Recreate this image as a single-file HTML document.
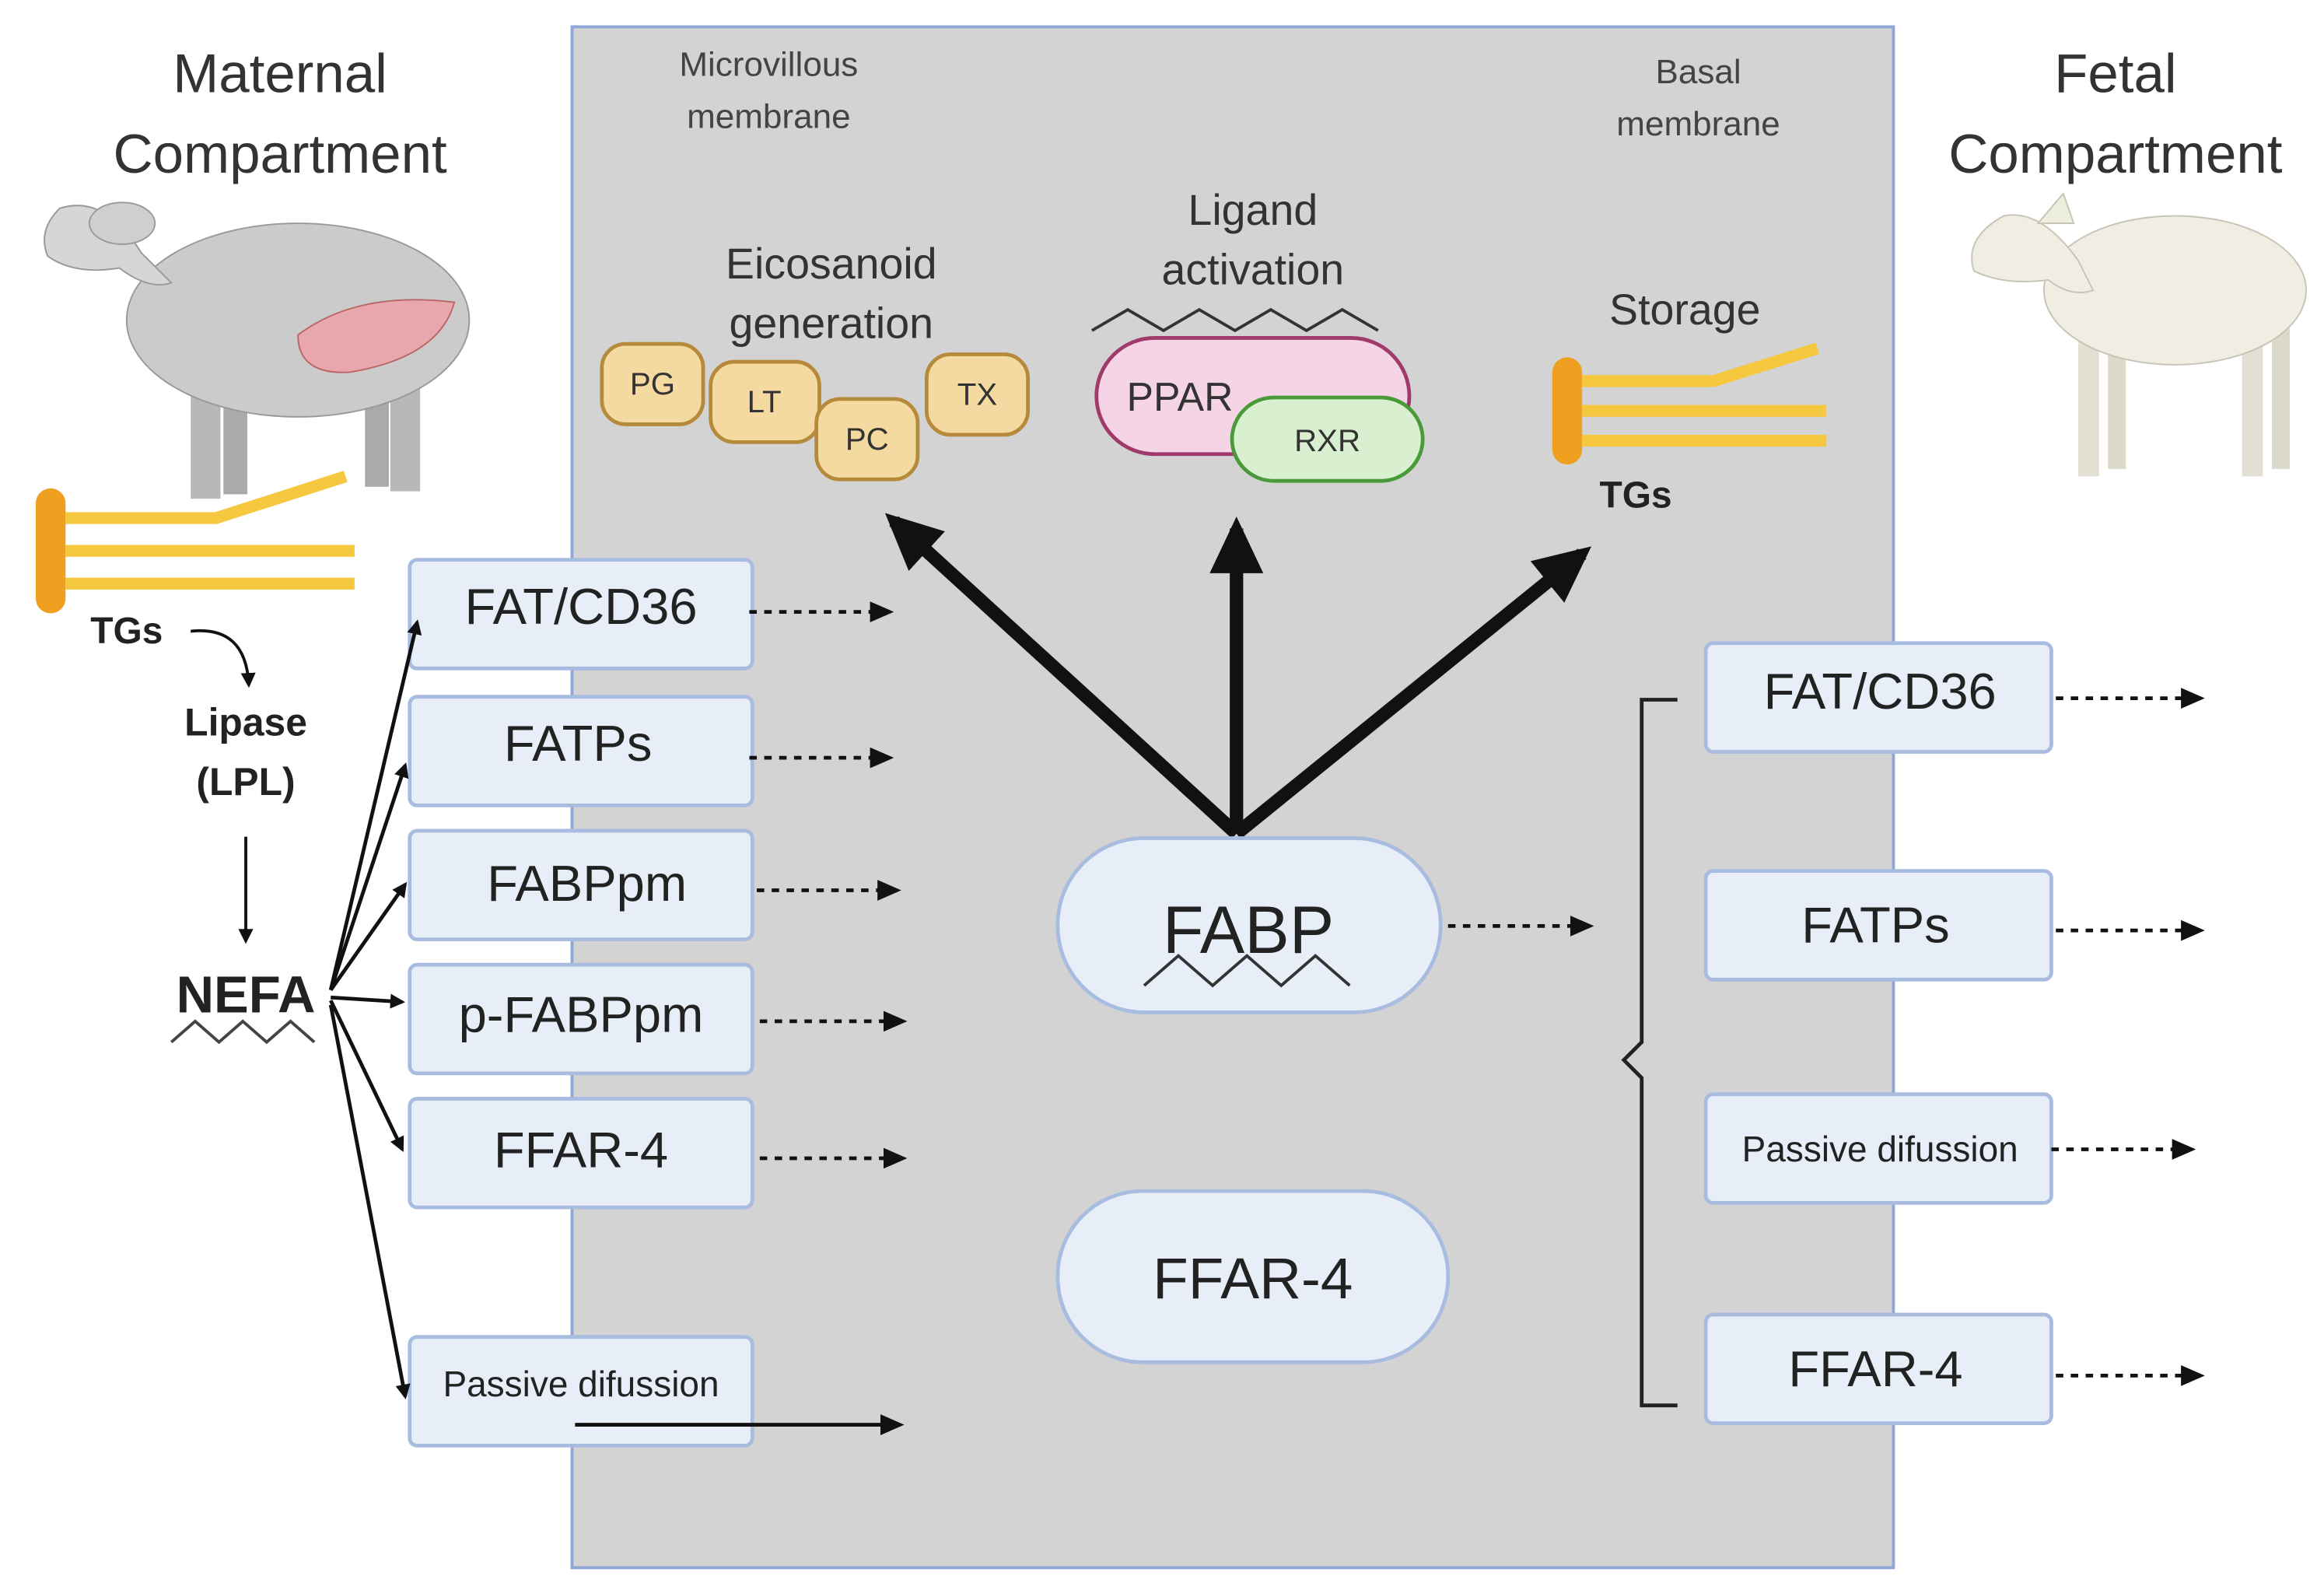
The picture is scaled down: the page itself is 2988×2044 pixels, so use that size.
<!DOCTYPE html>
<html><head><meta charset="utf-8"><style>
html,body{margin:0;padding:0;background:#fff;}
svg{display:block;}
text{font-family:"Liberation Sans",sans-serif;}
</style></head><body>
<svg width="2988" height="2044" viewBox="0 0 1560 1068" preserveAspectRatio="none" xmlns="http://www.w3.org/2000/svg">
<defs>
<marker id="ah" markerWidth="10" markerHeight="10" refX="8" refY="5" orient="auto" markerUnits="userSpaceOnUse"><path d="M0,0 L10,5 L0,10 z" fill="#111"/></marker>
<marker id="ah2" markerWidth="16" markerHeight="14" refX="12" refY="7" orient="auto" markerUnits="userSpaceOnUse"><path d="M0,0 L16,7 L0,14 z" fill="#111"/></marker>
<marker id="big" markerWidth="40" markerHeight="40" refX="30" refY="20" orient="auto" markerUnits="userSpaceOnUse"><path d="M0,2 L38,20 L0,38 z" fill="#111"/></marker>
</defs>
<rect x="0" y="0" width="1560" height="1068" fill="#fff"/>
<rect x="384" y="18" width="887" height="1035" fill="#d3d3d3" stroke="#8fa6d6" stroke-width="2"/>

<g fill="#333" font-size="37" text-anchor="middle">
<text x="188" y="62">Maternal</text><text x="188" y="116">Compartment</text>
<text x="1420" y="62">Fetal</text><text x="1420" y="116">Compartment</text>
</g>
<g fill="#444" font-size="23" text-anchor="middle">
<text x="516" y="51">Microvillous</text><text x="516" y="86">membrane</text>
<text x="1140" y="56">Basal</text><text x="1140" y="91">membrane</text>
</g>
<g fill="#333" font-size="29" text-anchor="middle">
<text x="558" y="187">Eicosanoid</text><text x="558" y="227">generation</text>
<text x="841" y="151">Ligand</text><text x="841" y="191">activation</text>
<text x="1131" y="218">Storage</text>
</g>

<!-- sheep -->
<g>
<rect x="128" y="255" width="20" height="80" fill="#b8b8b8"/><rect x="150" y="262" width="16" height="70" fill="#aaa"/>
<rect x="262" y="250" width="20" height="80" fill="#b8b8b8"/><rect x="245" y="255" width="16" height="72" fill="#aaa"/>
<ellipse cx="200" cy="215" rx="115" ry="65" fill="#cbcbcb" stroke="#999"/>
<path d="M95,170 Q70,130 40,140 Q25,155 32,172 Q50,185 80,180 Q100,195 115,190z" fill="#d6d6d6" stroke="#999"/>
<ellipse cx="82" cy="150" rx="22" ry="14" fill="#cfcfcf" stroke="#999"/>
<path d="M200,225 Q240,195 305,203 Q295,240 235,250 Q200,252 200,225z" fill="#e8a7ad" stroke="#b66"/>
</g>
<!-- lamb -->
<g>
<rect x="1395" y="225" width="14" height="95" fill="#e3e0d3"/><rect x="1415" y="230" width="12" height="85" fill="#dcd8ca"/>
<rect x="1505" y="220" width="14" height="100" fill="#e3e0d3"/><rect x="1525" y="215" width="12" height="100" fill="#dcd8ca"/>
<ellipse cx="1460" cy="195" rx="88" ry="50" fill="#f0ede3" stroke="#c8c4b5"/>
<path d="M1395,175 Q1370,140 1345,145 Q1318,160 1325,182 Q1345,192 1375,188 Q1390,200 1405,195z" fill="#f0ede3" stroke="#c8c4b5"/>
<path d="M1368,150 L1385,130 L1392,150z" fill="#eed" stroke="#c8c4b5"/>
</g>

<!-- TGs left -->
<rect x="24" y="328" width="20" height="84" rx="10" fill="#f0a020"/>
<g stroke="#f5c840" stroke-width="8" fill="none">
<path d="M44,348 L145,348 L232,320"/><line x1="44" y1="370" x2="238" y2="370"/><line x1="44" y1="392" x2="238" y2="392"/>
</g>
<text x="85" y="432" font-size="25" font-weight="bold" fill="#222" text-anchor="middle">TGs</text>
<path d="M128,424 Q165,420 167,460" stroke="#111" stroke-width="2" fill="none" marker-end="url(#ah)"/>
<text x="165" y="494" font-size="26" font-weight="bold" fill="#222" text-anchor="middle">Lipase</text>
<text x="165" y="534" font-size="26" font-weight="bold" fill="#222" text-anchor="middle">(LPL)</text>
<line x1="165" y1="562" x2="165" y2="632" stroke="#111" stroke-width="2" marker-end="url(#ah)"/>
<text x="165" y="680" font-size="35" font-weight="bold" fill="#222" text-anchor="middle">NEFA</text>
<path d="M115,700 l16,-14 l16,14 l16,-14 l16,14 l16,-14 l16,14" stroke="#444" stroke-width="2" fill="none"/>

<!-- TGs right -->
<rect x="1042" y="240" width="20" height="72" rx="10" fill="#f0a020"/>
<g stroke="#f5c840" stroke-width="8" fill="none">
<path d="M1062,256 L1150,256 L1220,234"/><line x1="1062" y1="276" x2="1226" y2="276"/><line x1="1062" y1="296" x2="1226" y2="296"/>
</g>
<text x="1098" y="341" font-size="25" font-weight="bold" fill="#222" text-anchor="middle">TGs</text>

<!-- eicosanoids -->
<g fill="#f4d9a0" stroke="#b58a3a" stroke-width="2.5">
<rect x="404" y="231" width="68" height="54" rx="16"/>
<rect x="477" y="243" width="73" height="54" rx="16"/>
<rect x="622" y="238" width="68" height="54" rx="16"/>
<rect x="548" y="268" width="68" height="54" rx="16"/>
</g>
<g font-size="21" fill="#333" text-anchor="middle">
<text x="438" y="265">PG</text><text x="513" y="277">LT</text><text x="656" y="272">TX</text><text x="582" y="302">PC</text>
</g>

<!-- PPAR/RXR -->
<path d="M733,222 l24,-14 l24,14 l24,-14 l24,14 l24,-14 l24,14 l24,-14 l24,14" stroke="#333" stroke-width="2" fill="none"/>
<rect x="736" y="227" width="210" height="78" rx="39" fill="#f5d5e5" stroke="#a03a6a" stroke-width="2.5"/>
<text x="792" y="276" font-size="27" fill="#333" text-anchor="middle">PPAR</text>
<rect x="827" y="267" width="128" height="56" rx="28" fill="#d8f0d0" stroke="#4a9a3a" stroke-width="2.5"/>
<text x="891" y="303" font-size="21" fill="#333" text-anchor="middle">RXR</text>

<g stroke="#111" stroke-width="9" fill="none">
<line x1="830" y1="560" x2="600" y2="350" marker-end="url(#big)"/>
<line x1="830" y1="560" x2="830" y2="355" marker-end="url(#big)"/>
<line x1="830" y1="560" x2="1062" y2="372" marker-end="url(#big)"/>
</g>

<rect x="710" y="563" width="257" height="117" rx="58" fill="#e8eef8" stroke="#a8bce0" stroke-width="2.5"/>
<text x="838" y="640" font-size="45" fill="#222" text-anchor="middle">FABP</text>
<path d="M768,662 l23,-20 l23,20 l23,-20 l23,20 l23,-20 l23,20" stroke="#333" stroke-width="2" fill="none"/>
<rect x="710" y="800" width="262" height="115" rx="57" fill="#e8eef8" stroke="#a8bce0" stroke-width="2.5"/>
<text x="841" y="872" font-size="39" fill="#222" text-anchor="middle">FFAR-4</text>
<line x1="972" y1="622" x2="1066" y2="622" stroke="#111" stroke-width="2.5" stroke-dasharray="5,5" marker-end="url(#ah2)"/>

<g fill="#e8eef8" stroke="#a8bce0" stroke-width="2.5">
<rect x="275" y="376" width="230" height="73" rx="5"/>
<rect x="275" y="468" width="230" height="73" rx="5"/>
<rect x="275" y="558" width="230" height="73" rx="5"/>
<rect x="275" y="648" width="230" height="73" rx="5"/>
<rect x="275" y="738" width="230" height="73" rx="5"/>
<rect x="275" y="898" width="230" height="73" rx="5"/>
</g>
<g font-size="34" fill="#222" text-anchor="middle">
<text x="390" y="419">FAT/CD36</text>
<text x="388" y="511">FATPs</text>
<text x="394" y="605">FABPpm</text>
<text x="390" y="693">p-FABPpm</text>
<text x="390" y="784">FFAR-4</text>
</g>
<text x="390" y="938" font-size="24" fill="#222" text-anchor="middle">Passive difussion</text>
<g stroke="#111" stroke-width="2.5" stroke-dasharray="5,5" fill="none">
<line x1="503" y1="411" x2="596" y2="411" marker-end="url(#ah2)"/>
<line x1="503" y1="509" x2="596" y2="509" marker-end="url(#ah2)"/>
<line x1="508" y1="598" x2="601" y2="598" marker-end="url(#ah2)"/>
<line x1="510" y1="686" x2="605" y2="686" marker-end="url(#ah2)"/>
<line x1="510" y1="778" x2="605" y2="778" marker-end="url(#ah2)"/>
</g>
<line x1="386" y1="957" x2="603" y2="957" stroke="#111" stroke-width="2.5" marker-end="url(#ah2)"/>

<g stroke="#111" stroke-width="2.5" fill="none">
<line x1="222" y1="665" x2="280" y2="418" marker-end="url(#ah)"/>
<line x1="222" y1="665" x2="272" y2="514" marker-end="url(#ah)"/>
<line x1="222" y1="665" x2="272" y2="594" marker-end="url(#ah)"/>
<line x1="222" y1="670" x2="270" y2="673" marker-end="url(#ah)"/>
<line x1="222" y1="672" x2="270" y2="772" marker-end="url(#ah)"/>
<line x1="222" y1="675" x2="272" y2="938" marker-end="url(#ah)"/>
</g>

<path d="M1126,470 L1102,470 L1102,700 L1090,712 L1102,724 L1102,944 L1126,944" stroke="#222" stroke-width="2.5" fill="none"/>

<g fill="#e8eef8" stroke="#a8bce0" stroke-width="2.5">
<rect x="1145" y="432" width="232" height="73" rx="5"/>
<rect x="1145" y="585" width="232" height="73" rx="5"/>
<rect x="1145" y="735" width="232" height="73" rx="5"/>
<rect x="1145" y="883" width="232" height="73" rx="5"/>
</g>
<g font-size="34" fill="#222" text-anchor="middle">
<text x="1262" y="476">FAT/CD36</text>
<text x="1259" y="633">FATPs</text>
<text x="1259" y="931">FFAR-4</text>
</g>
<text x="1262" y="780" font-size="24" fill="#222" text-anchor="middle">Passive difussion</text>
<g stroke="#111" stroke-width="2.5" stroke-dasharray="5,5" fill="none">
<line x1="1380" y1="469" x2="1476" y2="469" marker-end="url(#ah2)"/>
<line x1="1380" y1="625" x2="1476" y2="625" marker-end="url(#ah2)"/>
<line x1="1377" y1="772" x2="1470" y2="772" marker-end="url(#ah2)"/>
<line x1="1380" y1="924" x2="1476" y2="924" marker-end="url(#ah2)"/>
</g>
</svg>
</body></html>
